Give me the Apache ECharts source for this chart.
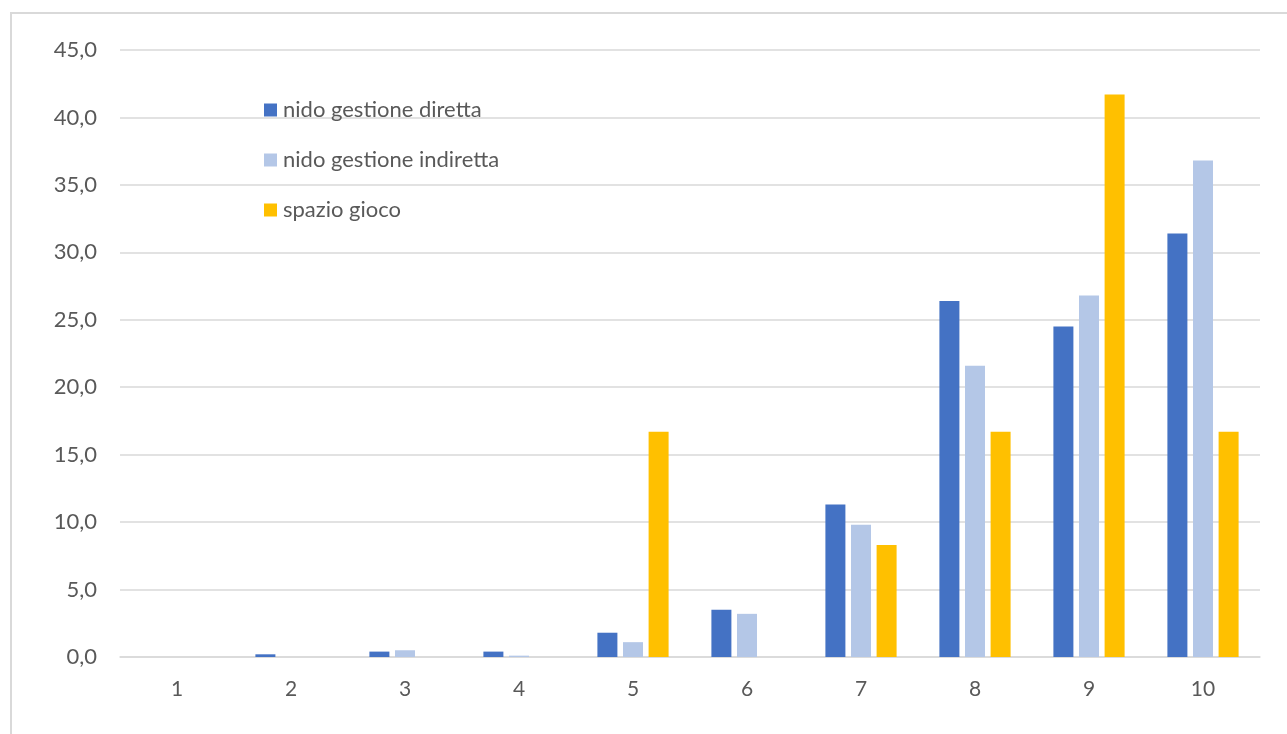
<!DOCTYPE html>
<html>
<head>
<meta charset="utf-8">
<script src="https://cdn.jsdelivr.net/npm/echarts@6/dist/echarts.min.js"></script>
<style>
html,body{margin:0;padding:0;background:#fff;}
#chart{width:1287px;height:734px;}
</style>
</head>
<body>
<div id="chart"></div>
<script>
const categories = ['1','2','3','4','5','6','7','8','9','10'];
const seriesNames = ['nido gestione diretta','nido gestione indiretta','spazio gioco'];
const diretta   = [0, 0.2, 0.4, 0.4, 1.8, 3.5, 11.3, 26.4, 24.5, 31.4];
const indiretta = [0, 0,   0.5, 0.1, 1.1, 3.2, 9.8, 21.6, 26.8, 36.8];
const spazio    = [0, 0,   0,   0,   16.7, 0,  8.3, 16.7, 41.7, 16.7];
const colors = ['#4472C4','#B4C7E7','#FFC000'];

const chart = echarts.init(document.getElementById('chart'));
const font = 'Lato, Open Sans, sans-serif';
chart.setOption({
  animation:false,
  backgroundColor:'#fff',
  graphic:[{type:'rect',shape:{x:11,y:13,width:1300,height:800},style:{fill:'none',stroke:'#D9D9D9',lineWidth:2},silent:true}],
  grid:{left:120,right:27,top:50,bottom:77,containLabel:false},
  legend:{
    orient:'vertical', left:259, top:94, itemGap:28,
    itemWidth:13, itemHeight:13, icon:'rect',
    textStyle:{color:'#595959',fontSize:22,fontFamily:font,padding:[0,0,0,1]},
    data:seriesNames
  },
  xAxis:{
    type:'category', data:categories,
    axisLine:{lineStyle:{color:'#D9D9D9',width:1.5}},
    axisTick:{show:false},
    axisLabel:{color:'#595959',fontSize:21,fontFamily:font,margin:22}
  },
  yAxis:{
    type:'value', min:0, max:45, interval:5,
    axisLine:{show:false}, axisTick:{show:false},
    splitLine:{lineStyle:{color:'#D9D9D9',width:1.5}},
    axisLabel:{color:'#595959',fontSize:22,fontFamily:font,margin:23,
      formatter:v=>v.toFixed(1).replace('.',',')}
  },
  series:[
    {name:seriesNames[0],type:'bar',data:diretta,barWidth:20,barGap:'28%',itemStyle:{color:colors[0]}},
    {name:seriesNames[1],type:'bar',data:indiretta,barWidth:20,barGap:'28%',itemStyle:{color:colors[1]}},
    {name:seriesNames[2],type:'bar',data:spazio,barWidth:20,barGap:'28%',itemStyle:{color:colors[2]}}
  ]
});
</script>
</body>
</html>
